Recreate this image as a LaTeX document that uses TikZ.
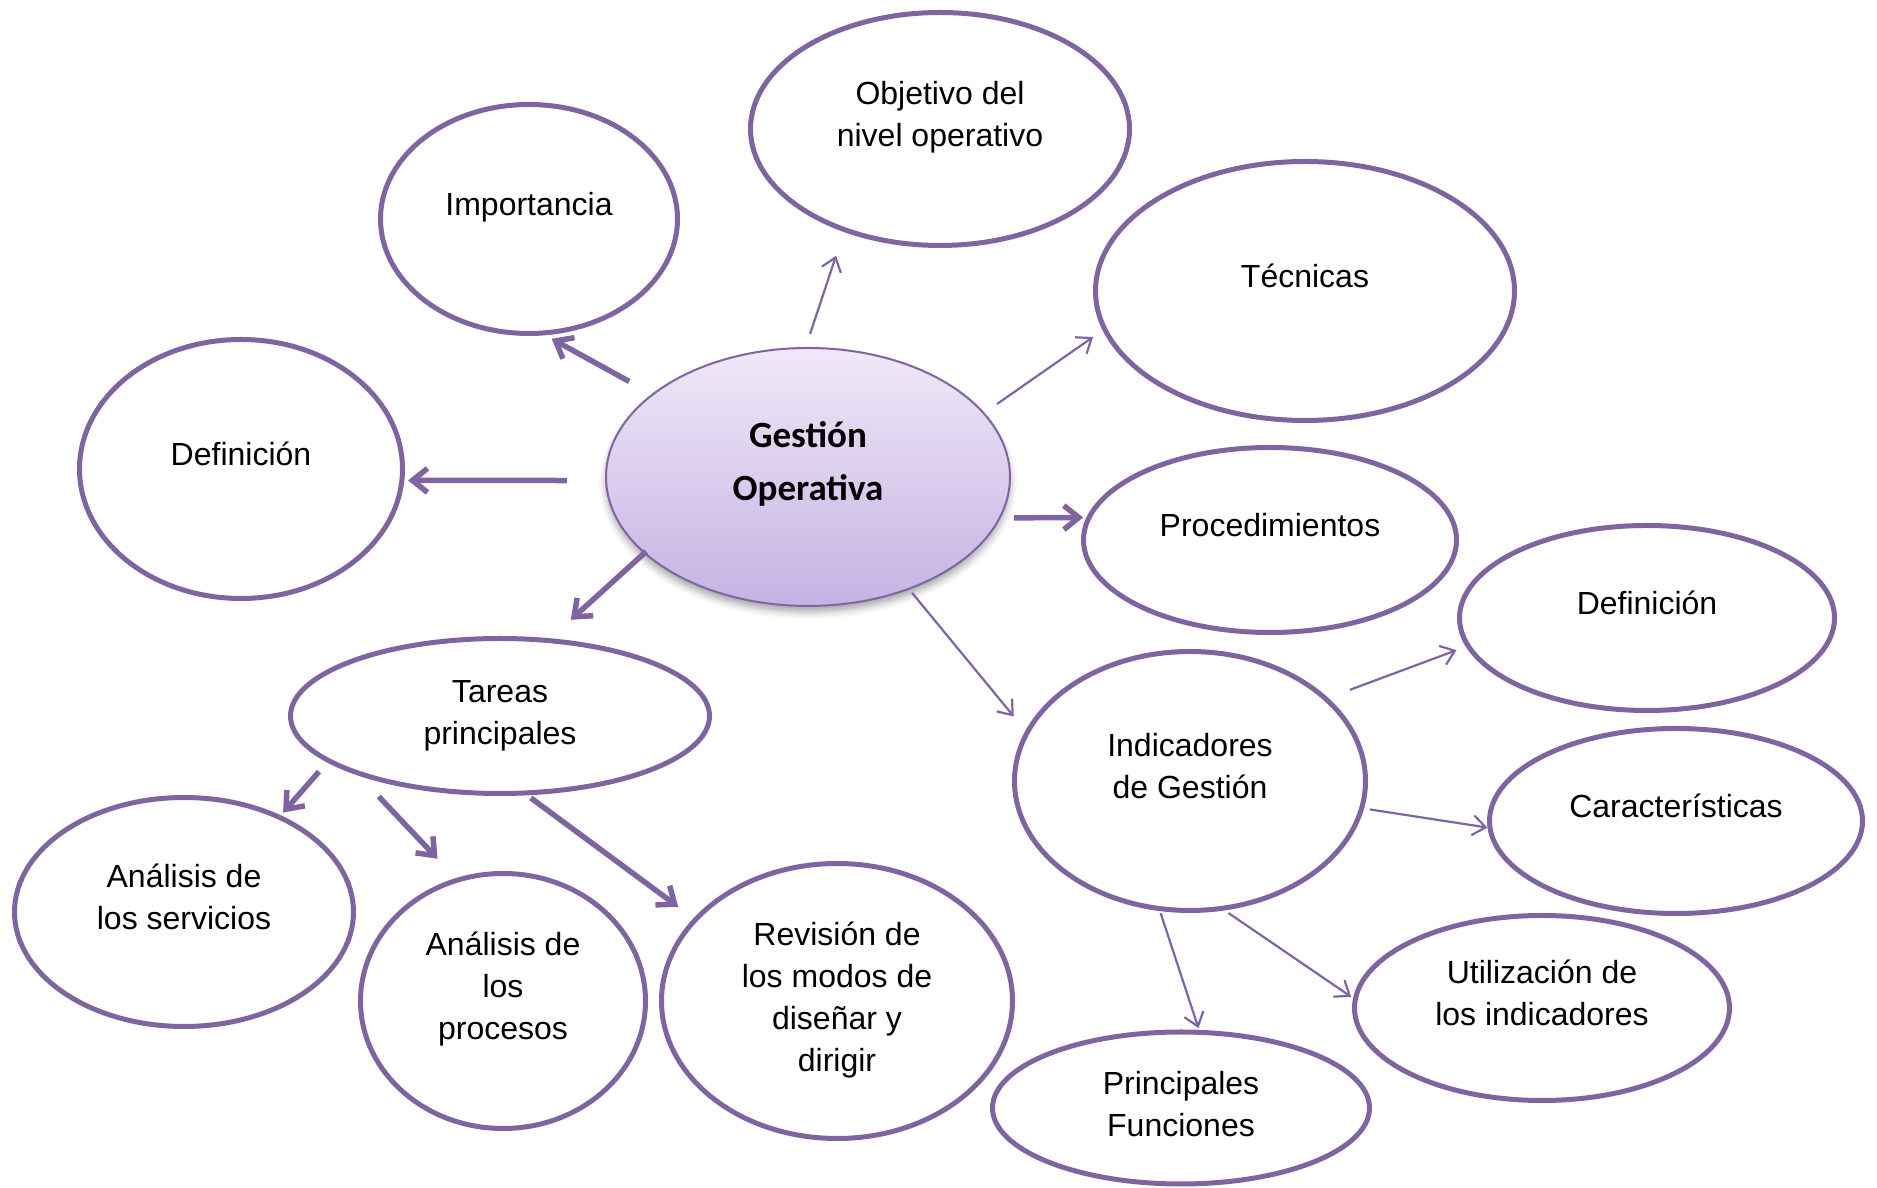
\documentclass[tikz,border=0pt]{standalone}
\usepackage{fontspec}
\setmainfont{Liberation Sans}
\newfontfamily\calibri{Carlito}
\usetikzlibrary{shapes.geometric,arrows.meta,shadows.blur}
\definecolor{lila}{HTML}{8064A2}
\definecolor{lilatop}{HTML}{EFE9F8}
\definecolor{lilabot}{HTML}{C5B2E3}
% centred multi-line label, lifted a little above the ellipse centre
\newcommand{\etq}[2]{\raisebox{#1}[0pt][0pt]{\begin{tabular}{@{}c@{}}#2\end{tabular}}}

\begin{document}
\begin{tikzpicture}[x=1pt,y=1pt,
  burbuja/.style={ellipse, draw=lila, line width=5pt, fill=white, inner sep=0pt,
    font=\fontsize{32}{42}\selectfont},
  centro/.style={ellipse, draw=lila, line width=2pt, inner sep=0pt,
    top color=lilatop, bottom color=lilabot,
    blur shadow={shadow xshift=0pt, shadow yshift=-6pt, shadow blur radius=7pt, shadow opacity=35},
    font=\calibri\bfseries\fontsize{37}{53}\selectfont},
  grueso/.style={draw=lila, line width=5.5pt, -{Straight Barb[length=15pt,width=24pt]}},
  fino/.style={draw=lila, line width=2.2pt, -{Straight Barb[length=13pt,width=20pt]}}]
\useasboundingbox (0,0) rectangle (1877,1188);

% central topic
\node[centro, minimum width=404, minimum height=258] (c) at (808,711)
  {\etq{7.5pt}{Gestión\\Operativa}};

% first ring
\node[burbuja, minimum width=379, minimum height=233] (obj) at (940,1059) {\etq{6pt}{Objetivo del\\nivel operativo}};
\node[burbuja, minimum width=297, minimum height=229] (imp) at (529,969) {\etq{6pt}{Importancia}};
\node[burbuja, minimum width=419, minimum height=259] (tec) at (1305,897) {\etq{6pt}{Técnicas}};
\node[burbuja, minimum width=323, minimum height=259] (def1) at (241,719) {\etq{6pt}{Definición}};
\node[burbuja, minimum width=373, minimum height=185] (proc) at (1270,648) {\etq{6pt}{Procedimientos}};
\node[burbuja, minimum width=419, minimum height=155] (tar) at (500,472) {\etq{-5.5pt}{Tareas\\principales}};
\node[burbuja, minimum width=351, minimum height=259] (ind) at (1190,407) {\etq{6pt}{Indicadores\\de Gestión}};

% indicators branch
\node[burbuja, minimum width=375, minimum height=185] (def2) at (1647,570) {\etq{6pt}{Definición}};
\node[burbuja, minimum width=373, minimum height=185] (car) at (1676,367) {\etq{6pt}{Características}};
\node[burbuja, minimum width=375, minimum height=185] (uti) at (1542,180) {\etq{6pt}{Utilización de\\los indicadores}};
\node[burbuja, minimum width=377, minimum height=152] (pf) at (1181,80) {\etq{-5.5pt}{Principales\\Funciones}};

% tasks branch
\node[burbuja, minimum width=339, minimum height=229] (as) at (184,276) {\etq{6pt}{Análisis de\\los servicios}};
\node[burbuja, minimum width=285, minimum height=255] (ap) at (503,187) {\etq{6pt}{Análisis de\\los\\procesos}};
\node[burbuja, minimum width=351, minimum height=275] (rev) at (837,187) {\etq{-5.5pt}{Revisión de\\los modos de\\diseñar y\\dirigir}};

% connectors
\draw[grueso, shorten <=25.8pt, shorten >=7.3pt] (c.152.9) -- (imp.-82.3);
\draw[fino, shorten <=13.7pt, shorten >=25pt] (c.91.4) -- (obj.-133.9);
\draw[fino, shorten <=15.2pt, shorten >=11.7pt] (c.20.5) -- (tec.191.7);
\draw[grueso, shorten <=38pt, shorten >=3.7pt] (c.181.1) -- (def1.-4.2);
\draw[grueso, shorten <=13.4pt, shorten >=3.2pt] (c.-12.65) -- (proc.173.8);
\draw[grueso, shorten <=-3pt, shorten >=27.5pt] (c.205.3) -- (tar.57);
\draw[fino, shorten <=4.2pt, shorten >=18.4pt] (c.-48) -- (ind.163.6);

\draw[fino, shorten <=23pt, shorten >=10pt] (ind.31) -- (def2.189.3);
\draw[fino, shorten <=6pt, shorten >=0pt] (ind.-9.1) -- (car.182.7);
\draw[fino, shorten <=4.5pt, shorten >=2.3pt] (ind.-75.2) -- (uti.177.1);
\draw[fino, shorten <=2.2pt, shorten >=1.8pt] (ind.-103.7) -- (pf.77.3);

\draw[grueso, shorten <=12.4pt, shorten >=3.6pt] (tar.195.3) -- (as.45.6);
\draw[grueso, shorten <=28.5pt, shorten >=26.6pt] (tar.203.2) -- (ap.111.8);
\draw[grueso, shorten <=4.4pt, shorten >=19.1pt] (tar.-71.6) -- (rev.150.6);
\end{tikzpicture}
\end{document}
